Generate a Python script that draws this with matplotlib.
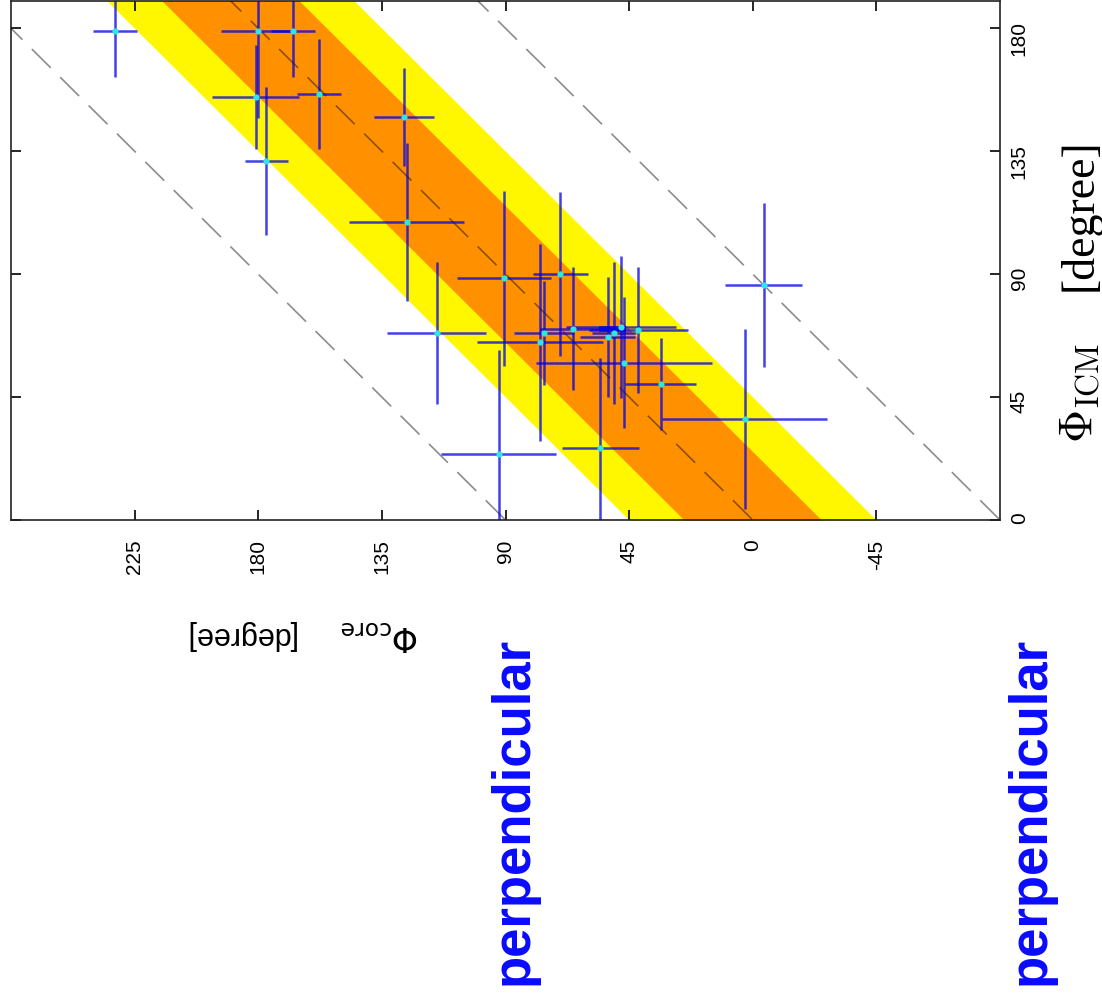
import matplotlib
matplotlib.use("Agg")
import matplotlib.pyplot as plt
import numpy as np

# angle of the core (x) against angle of the ICM (y), in degrees
phi_core = [232, 180, 167.5, 181, 158, 177, 127, 126, 115, 90.5, 70, 76, 77.5,
            65.5, 52.7, 50.5, 48, 41.7, 47, 33.5, 55.5, 92.5, 3, -4, 51]
phi_icm = [179, 179, 179, 155, 156, 131.5, 147.5, 109, 68.5, 88.5, 90, 68.5, 65,
           70, 67, 68.5, 70.7, 69.6, 57.5, 49.8, 26.4, 24.2, 37, 86, 70]
err_core = [8, 13.5, 8, 16, 8, 8, 11, 21, 18, 17, 10, 11, 23,
            12, 10, 8, 20, 18, 32, 13, 14, 21, 30, 14, 5]
err_icm = [17, 32, 17, 19, 20, 27, 18, 29, 26, 32, 30, 19, 36,
           22.5, 22, 26, 26, 23, 24, 17, 33, 38, 33, 30, 0.8]

core_ticks = [-45, 0, 45, 90, 135, 180, 225]
icm_ticks = [0, 45, 90, 135, 180]

inner_band = 25    # half width of orange band
outer_band = 45    # half width of yellow band
guide_offsets = [-90, 0, 90]

plt.rcParams['font.family'] = ['Liberation Sans', 'DejaVu Sans']

fig = plt.figure(figsize=(11.02, 10.02), dpi=100)
ax = fig.add_axes([11/1102, 1 - 520/1002, 989/1102, 519/1002])

icm_line = np.array([-10.0, 200.0])
ax.fill_betweenx(icm_line, icm_line - outer_band, icm_line + outer_band,
                 color='#fff700', lw=0, zorder=1)
ax.fill_betweenx(icm_line, icm_line - inner_band, icm_line + inner_band,
                 color='#ff9100', lw=0, zorder=2)
for off in guide_offsets:
    ax.plot(icm_line + off, icm_line, color='black', alpha=0.45, lw=1.2,
            dashes=(16, 8), zorder=3)

ax.errorbar(phi_core[:-1], phi_icm[:-1], xerr=err_core[:-1], yerr=err_icm[:-1],
            fmt='none', ecolor=(0, 0, 0.9), alpha=0.75, elinewidth=1.8,
            capsize=0, zorder=4)
ax.errorbar(phi_core[-1:], phi_icm[-1:], xerr=err_core[-1:], yerr=err_icm[-1:],
            fmt='none', ecolor=(0, 0, 0.9), alpha=0.85, elinewidth=4,
            capsize=0, zorder=4)
ax.plot(phi_core[:-1], phi_icm[:-1], 'o', ms=4.5, mec='none',
        color='#30e6e0', zorder=5)

ax.set_xlim(270, -90)
ax.set_ylim(0, 190)
ax.set_xticks(core_ticks)
ax.set_yticks(icm_ticks)
ax.set_xticklabels([str(t) for t in core_ticks])
ax.set_yticklabels([str(t) for t in icm_ticks])

ax.tick_params(axis='x', direction='in', top=True, bottom=True, length=7,
               width=1.2, pad=14, labelsize=15, labelrotation=90)
ax.tick_params(axis='y', direction='in', left=True, right=True, length=7,
               width=1.2, pad=7, labelsize=15, labelrotation=90,
               labelleft=False, labelright=True)
for s in ax.spines.values():
    s.set_linewidth(1.2)
    s.set_color('#222222')

# axis titles, turned with the plot
fig.text(0.980, 0.608, r'$\Phi_{\mathrm{ICM}}$', rotation=90,
         ha='center', va='center', fontsize=33, math_fontfamily='cm')
fig.text(0.980, 0.786, '[degree]', rotation=90, ha='center', va='center',
         fontsize=33, family='Liberation Serif')
fig.text(0.345, 0.366, r'$\Phi_{\mathrm{core}}$', rotation=180,
         ha='center', va='center', fontsize=24)
fig.text(0.217, 0.366, '[degree]', rotation=180,
         ha='center', va='center', fontsize=22)

for xc in (0.466, 0.935):
    fig.text(xc, 0.191, 'perpendicular', rotation=90, ha='center',
             va='center', fontsize=38, fontweight='bold', color='#0a0aff')

fig.savefig('out.png', dpi=100)
